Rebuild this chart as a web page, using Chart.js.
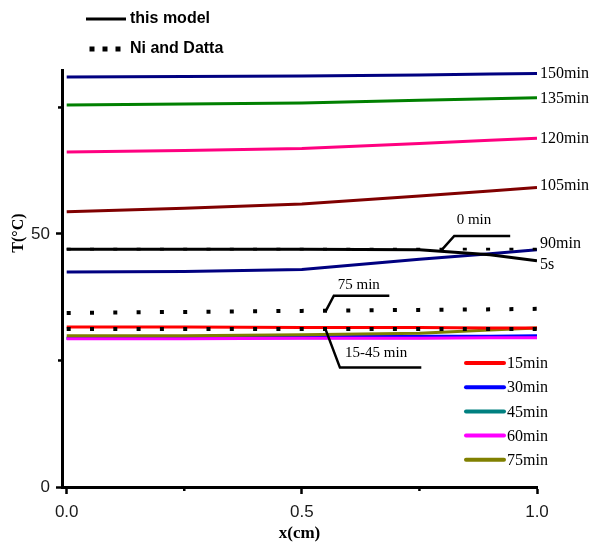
<!DOCTYPE html>
<html><head><meta charset="utf-8">
<script src="https://cdn.jsdelivr.net/npm/chart.js@4.4.1/dist/chart.umd.min.js"></script>
<style>html,body{margin:0;padding:0;background:#fff}#wrap{width:593px;height:549px;position:relative}</style>
</head><body><div id="wrap"><canvas id="c" width="593" height="549"></canvas></div>
<script>
// ---- data (x in cm, T in °C) ----
const xPositions = [0, 0.25, 0.5, 0.75, 0.9, 1.0];
const model5s    = [47.0, 47.0, 47.0, 46.9, 45.9, 44.7];
const model15    = [31.6, 31.6, 31.5, 31.5, 31.4, 31.4];
const model30    = [29.4, 29.5, 29.7, 29.8, 29.8, 29.9];
const model45    = [29.4, 29.4, 29.5, 29.5, 29.6, 29.6];
const model60    = [29.3, 29.3, 29.4, 29.4, 29.5, 29.5];
const model75    = [29.9, 29.9, 30.1, 30.4, 31.0, 31.4];
const model90    = [42.5, 42.6, 43.0, 45.0, 46.1, 46.9];
const model105   = [54.4, 55.1, 55.9, 57.5, 58.5, 59.2];
const model120   = [66.2, 66.5, 66.9, 67.9, 68.5, 68.9];
const model135   = [75.5, 75.7, 75.9, 76.4, 76.7, 76.9];
const model150   = [81.0, 81.1, 81.2, 81.4, 81.6, 81.7];
const niDatta0   = [47.0, 47.0, 47.0, 47.0, 47.0, 47.0];
const niDatta75  = [34.4, 34.6, 34.8, 35.0, 35.1, 35.2];
const niDatta15to45 = [31.2, 31.2, 31.2, 31.2, 31.2, 31.2];
const xTickValues = [0, 0.25, 0.5, 0.75, 1.0];
const xTickLabels = {0: '0.0', 0.5: '0.5', 1: '1.0'};
const yTickValues = [0, 25, 50, 75];
const yTickLabels = {0: '0', 50: '50'};
const seriesNames = ['5s','15min','30min','45min','60min','75min','90min','105min','120min','135min','150min'];
// annotations (data coordinates)
const annotations = [
  {text: '0 min', at: [0.866, 52.8], path: [[0.798, 46.9], [0.824, 49.6], [0.943, 49.6]]},
  {text: '75 min', at: [0.621, 40.0], path: [[0.551, 34.8], [0.568, 37.8], [0.686, 37.8]]},
  {text: '15-45 min', at: [0.658, 26.4], path: [[0.549, 31.5], [0.581, 23.6], [0.754, 23.6]]}
];

const pts = arr => xPositions.map((x, i) => ({x, y: arr[i]}));
function model(label, arr, color, endLabel, dy) {
  return {label, data: pts(arr), borderColor: color, backgroundColor: color, borderWidth: 3,
    pointRadius: 0, tension: 0, fill: false, endLabel, endDy: dy || 0};
}
function dotted(label, arr, w) {
  return {label, data: pts(arr), borderColor: '#000', borderWidth: w || 4, borderDash: [4, 19.3],
    borderCapStyle: 'butt', pointRadius: 0, tension: 0, fill: false};
}
// first dataset is drawn on top
const datasets = [
  model(seriesNames[0], model5s, '#000000', '5s', 4),
  dotted('Ni and Datta 0min', niDatta0, 2.6),
  dotted('Ni and Datta 75min', niDatta75),
  dotted('Ni and Datta 15-45min', niDatta15to45),
  model(seriesNames[1], model15, '#ff0000'),
  model(seriesNames[5], model75, '#808000'),
  model(seriesNames[4], model60, '#ff00ff'),
  model(seriesNames[2], model30, '#0000ff'),
  model(seriesNames[3], model45, '#008080'),
  model(seriesNames[6], model90, '#000080', '90min', -6),
  model(seriesNames[7], model105, '#800000', '105min', -2),
  model(seriesNames[8], model120, '#ff0080', '120min', 0),
  model(seriesNames[9], model135, '#008000', '135min', 1),
  model(seriesNames[10], model150, '#000080', '150min', 0)
];
const legendSeries = ['15min','30min','45min','60min','75min'];

const SERIF = '"Liberation Serif", "Times New Roman", serif';
const SANS = '"Liberation Sans", Arial, sans-serif';
const isMajorX = v => xTickLabels[v] !== undefined;
const isMajorY = v => yTickLabels[v] !== undefined;

const decor = {
  id: 'decor',
  afterDraw(chart) {
    const ctx = chart.ctx, xs = chart.scales.x, ys = chart.scales.y;
    const X = v => xs.getPixelForValue(v), Y = v => ys.getPixelForValue(v);
    const ca = chart.chartArea;
    ctx.save();
    // minor ticks (short)
    ctx.strokeStyle = '#000'; ctx.lineWidth = 2.5;
    xTickValues.filter(v => !isMajorX(v)).forEach(v => {
      ctx.beginPath(); ctx.moveTo(X(v), ca.bottom); ctx.lineTo(X(v), ca.bottom + 4); ctx.stroke();
    });
    yTickValues.filter(v => !isMajorY(v)).forEach(v => {
      ctx.beginPath(); ctx.moveTo(ca.left, Y(v)); ctx.lineTo(ca.left - 4, Y(v)); ctx.stroke();
    });
    // end labels
    ctx.fillStyle = '#000';
    ctx.font = '16px ' + SERIF;
    ctx.textAlign = 'left'; ctx.textBaseline = 'middle';
    chart.data.datasets.forEach((ds, i) => {
      if (!ds.endLabel) return;
      const meta = chart.getDatasetMeta(i);
      const p = meta.data[meta.data.length - 1];
      ctx.fillText(ds.endLabel, p.x + 3, p.y + ds.endDy);
    });
    // annotations
    ctx.font = '15px ' + SERIF;
    ctx.textAlign = 'center';
    ctx.strokeStyle = '#000'; ctx.lineWidth = 2.5;
    annotations.forEach(a => {
      ctx.beginPath();
      a.path.forEach((q, k) => k ? ctx.lineTo(X(q[0]), Y(q[1])) : ctx.moveTo(X(q[0]), Y(q[1])));
      ctx.stroke();
      ctx.fillText(a.text, X(a.at[0]), Y(a.at[1]));
    });
    // lower-right legend
    ctx.textAlign = 'left';
    ctx.font = '16px ' + SERIF;
    legendSeries.forEach((name, k) => {
      const ds = chart.data.datasets.find(d => d.label === name);
      const y = 363 + k * 24.2;
      ctx.strokeStyle = ds.borderColor; ctx.lineWidth = 4; ctx.lineCap = 'round';
      ctx.beginPath(); ctx.moveTo(466, y); ctx.lineTo(504, y); ctx.stroke();
      ctx.fillStyle = '#000';
      ctx.fillText(name, 507, y + 1);
    });
    // top-left legend
    ctx.lineCap = 'butt';
    ctx.strokeStyle = '#000'; ctx.lineWidth = 3;
    ctx.beginPath(); ctx.moveTo(86, 19); ctx.lineTo(126, 19); ctx.stroke();
    ctx.fillStyle = '#000';
    [92, 105, 118].forEach(cx => ctx.fillRect(cx - 2.5, 46.5, 5, 5));
    ctx.font = 'bold 16px ' + SANS;
    ctx.fillText('this model', 130, 19);
    ctx.fillText('Ni and Datta', 130, 49);
    // axis titles
    ctx.font = 'bold 17px ' + SERIF;
    ctx.textAlign = 'center';
    ctx.fillText('x(cm)', (ca.left + ca.right) / 2, 534);
    ctx.translate(19, 233); ctx.rotate(-Math.PI / 2);
    ctx.font = 'bold 16px ' + SERIF;
    ctx.fillText('T(\u00b0C)', 0, 0);
    ctx.restore();
  }
};

new Chart(document.getElementById('c'), {
  type: 'line',
  data: {datasets},
  options: {
    responsive: false, animation: false, devicePixelRatio: 1,
    layout: {padding: {left: 0, top: 70, right: 56, bottom: 0}},
    plugins: {legend: {display: false}, tooltip: {enabled: false}},
    scales: {
      x: {
        type: 'linear', min: -0.01, max: 1.0,
        afterBuildTicks: s => { s.ticks = xTickValues.map(v => ({value: v})); },
        afterFit: s => { s.height = 62; },
        grid: {drawOnChartArea: false, drawTicks: true, tickLength: 7, tickWidth: 2.5,
          tickColor: c => (c.tick && isMajorX(c.tick.value)) ? '#000' : 'rgba(0,0,0,0)'},
        border: {display: true, color: '#000', width: 3},
        ticks: {padding: 8, color: '#1a1a1a', font: {family: SANS, size: 17},
          callback: v => isMajorX(v) ? xTickLabels[v] : '', maxRotation: 0, autoSkip: false}
      },
      y: {
        min: 0, max: 82.4,
        afterBuildTicks: s => { s.ticks = yTickValues.map(v => ({value: v})); },
        afterFit: s => { s.width = 62; },
        grid: {drawOnChartArea: false, drawTicks: true, tickLength: 6, tickWidth: 2.5,
          tickColor: c => (c.tick && isMajorY(c.tick.value)) ? '#000' : 'rgba(0,0,0,0)'},
        border: {display: true, color: '#000', width: 3},
        ticks: {padding: 6, color: '#1a1a1a', font: {family: SANS, size: 17},
          callback: v => isMajorY(v) ? yTickLabels[v] : '', autoSkip: false}
      }
    }
  },
  plugins: [decor]
});
</script></body></html>
